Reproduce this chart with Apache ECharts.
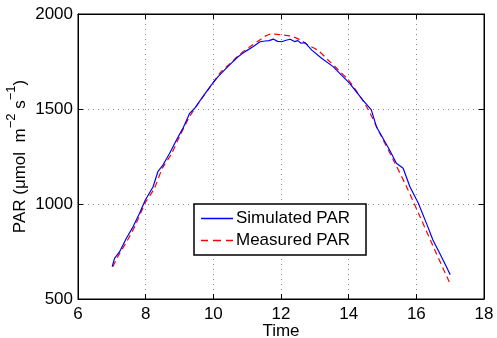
<!DOCTYPE html>
<html><head><meta charset="utf-8">
<script src="https://cdn.jsdelivr.net/npm/echarts@6/dist/echarts.min.js"></script>
<style>html,body{margin:0;padding:0;background:#fff}#c{width:497px;height:338px}</style>
</head><body><div id="c"></div>
<script>
var xTicks = [6, 8, 10, 12, 14, 16, 18];
var yTicks = [500, 1000, 1500, 2000];
var simTime = [7.01,7.08,7.23,7.43,7.63,7.82,7.99,8.22,8.36,8.51,8.71,8.91,9.10,9.30,9.45,9.69,9.94,10.14,10.48,10.73,10.94,11.17,11.38,11.53,11.65,11.77,11.9,12.02,12.15,12.27,12.4,12.5,12.59,12.71,12.91,13.2,13.54,14.03,14.42,14.67,14.82,15.21,15.41,15.61,15.81,16.06,16.30,16.49,16.69,16.89,17.0];
var simPAR = [670,714,749,820,881,951,1021,1091,1170,1205,1267,1337,1398,1477,1504,1565,1626,1670,1732,1775,1802,1828,1854,1858,1860,1868,1856,1854,1862,1867,1855,1860,1846,1849,1810,1767,1723,1635,1547,1495,1407,1284,1214,1188,1091,1004,898,811,741,670,627];
var measTime = [7.03,7.2,7.45,7.7,8.0,8.25,8.5,8.75,9.0,9.3,9.6,9.9,10.2,10.5,10.8,11.1,11.37,11.55,11.72,11.9,12.07,12.25,12.41,12.6,12.8,13.1,13.39,13.7,14.03,14.53,14.92,15.32,15.71,16.11,16.5,16.99];
var measPAR = [670,730,805,890,1010,1080,1190,1260,1355,1460,1540,1615,1690,1740,1790,1830,1863,1885,1895,1893,1889,1885,1877,1860,1837,1807,1758,1705,1644,1512,1372,1232,1091,933,776,583];

var simData = simTime.map(function(t,i){return [t, simPAR[i]];});
var measData = measTime.map(function(t,i){return [t, measPAR[i]];});
var font = 'Liberation Sans, Arial, Helvetica, sans-serif';
var chart = echarts.init(document.getElementById('c'));
var dotted = {show:true, lineStyle:{color:'#888', type:[1,4], width:1}};
var plain = function(v){return String(v);};
chart.setOption({
  animation:false,
  grid:{left:78, right:13, top:14, bottom:39, show:true, borderColor:'#000', borderWidth:1, containLabel:false, outerBoundsMode:'none'},
  xAxis:[{type:'value', min:xTicks[0], max:xTicks[xTicks.length-1], interval:2, position:'bottom',
    name:'Time', nameLocation:'middle', nameGap:24, nameMoveOverlap:false, nameTextStyle:{color:'#000', fontSize:17, fontFamily:font},
    axisLine:{lineStyle:{color:'#000'}}, axisTick:{inside:true, length:5, lineStyle:{color:'#000'}},
    axisLabel:{color:'#000', fontSize:17, fontFamily:font, margin:7, formatter:plain},
    splitLine:dotted},
   {type:'value', min:6, max:18, interval:2, position:'top',
    axisLine:{show:true, lineStyle:{color:'#000'}}, axisTick:{inside:true, length:5, lineStyle:{color:'#000'}},
    axisLabel:{show:false}, splitLine:{show:false}}],
  yAxis:[{type:'value', min:yTicks[0], max:yTicks[yTicks.length-1], interval:500,
    name:'{n|PAR (\u03bcmol  m}{s|\u22122}{n| s}{s|\u22121}{n|)}', nameLocation:'middle', nameGap:49, nameRotate:90, nameMoveOverlap:false,
    nameTextStyle:{color:'#000', fontSize:17, fontFamily:font,
      rich:{n:{fontSize:17, fontFamily:font, color:'#000', lineHeight:24, verticalAlign:'bottom'},
            s:{fontSize:13, fontFamily:font, color:'#000', lineHeight:24, verticalAlign:'top', padding:[0,0,8,0]}}},
    axisLine:{show:true, lineStyle:{color:'#000'}}, axisTick:{show:true, inside:true, length:5, lineStyle:{color:'#000'}},
    axisLabel:{color:'#000', fontSize:17, fontFamily:font, margin:5, formatter:plain},
    splitLine:dotted},
   {type:'value', min:500, max:2000, interval:500, position:'right',
    axisLine:{show:true, lineStyle:{color:'#000'}}, axisTick:{show:true, inside:true, length:5, lineStyle:{color:'#000'}},
    axisLabel:{show:false}, splitLine:{show:false}}],
  legend:{show:true, left:194, top:204, orient:'vertical', itemWidth:32, itemHeight:1.5, itemGap:5,
    padding:[6,16,6,7], borderColor:'#000', borderWidth:1.5, backgroundColor:'#fff',
    textStyle:{color:'#000', fontSize:17, fontFamily:font, padding:[0,0,0,-2]},
    data:[{name:'Simulated PAR', icon:'path://M0,0h32v1.5h-32z'},
          {name:'Measured PAR', icon:'path://M0,0h7v1.5h-7zM12,0h8v1.5h-8zM25,0h7v1.5h-7z'}]},
  series:[
    {name:'Simulated PAR', type:'line', data:simData, showSymbol:false, symbol:'none',
      lineStyle:{color:'#0000ff', width:1.2}, itemStyle:{color:'#0000ff'}, z:3},
    {name:'Measured PAR', type:'line', data:measData, showSymbol:false, symbol:'none', smooth:0.3,
      lineStyle:{color:'#ff0000', width:1.2, type:[6,4]}, itemStyle:{color:'#ff0000'}, z:2}
  ]
});
</script></body></html>
